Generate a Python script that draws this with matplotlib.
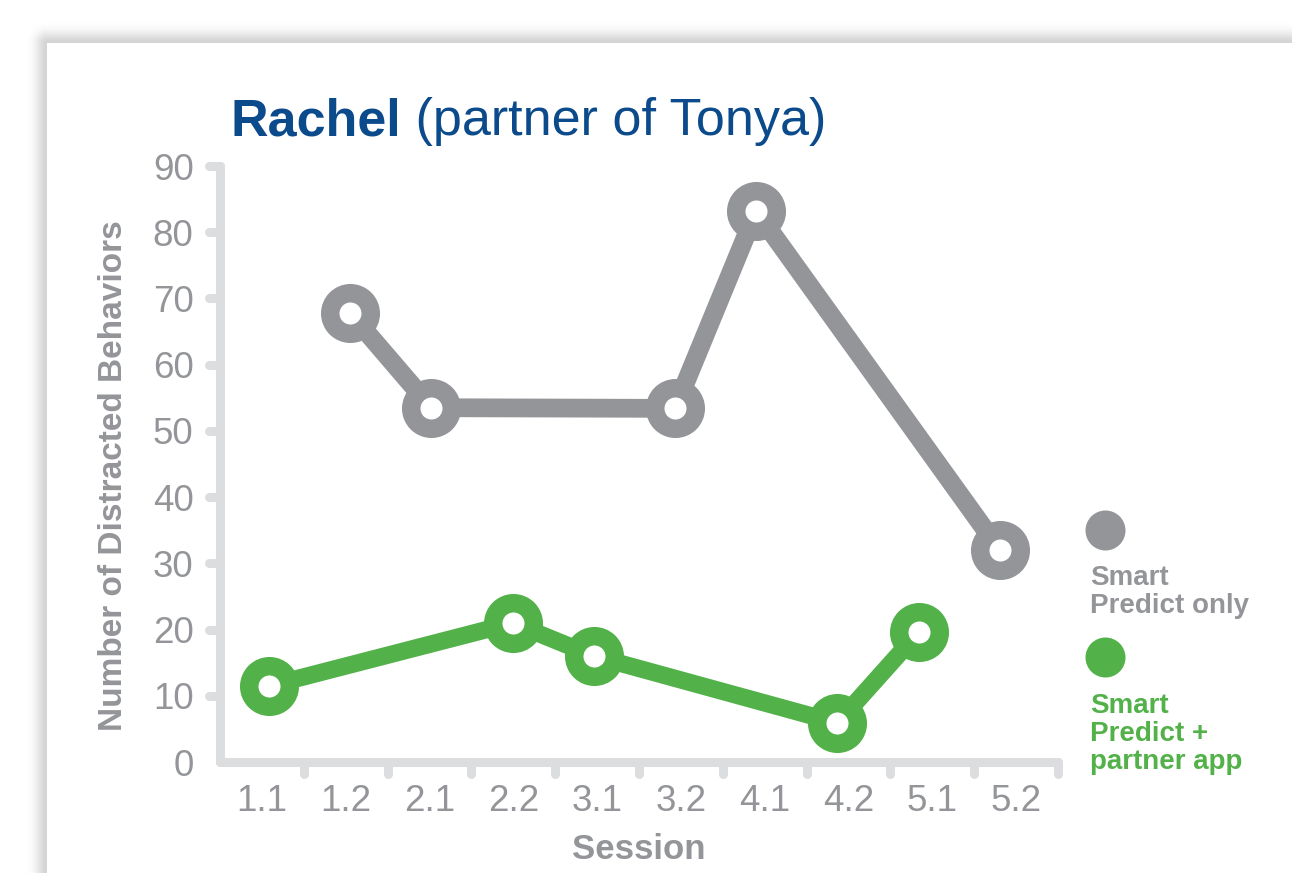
import matplotlib
matplotlib.use('Agg')
import matplotlib.pyplot as plt
import numpy as np
from matplotlib.patches import Rectangle
from matplotlib.markers import MarkerStyle

plt.rcParams['font.family'] = ['Liberation Sans', 'DejaVu Sans']

sessions = ['1.1', '1.2', '2.1', '2.2', '3.1', '3.2', '4.1', '4.2', '5.1', '5.2']
only_sessions = ['1.2', '2.1', '3.2', '4.1', '5.2']
only_values = [67.8, 53.5, 53.4, 83.2, 32.0]
app_sessions = ['1.1', '2.2', '3.1', '4.2', '5.1']
app_values = [11.5, 21.0, 16.0, 5.9, 19.6]
yticks = [0, 10, 20, 30, 40, 50, 60, 70, 80, 90]

gray = '#939598'
green = '#52b249'
axis_gray = '#dcdddf'
blue = '#0b4a8b'

fig = plt.figure(figsize=(12.92, 8.73), dpi=100)

# background card with soft shadow (pixel coords)
bg = fig.add_axes([0, 0, 1, 1], zorder=0)
bg.set_xlim(0, 1292)
bg.set_ylim(873, 0)
bg.axis('off')
xx, yy = np.meshgrid(np.arange(1292) + 0.5, np.arange(873) + 0.5)
dist = np.hypot(np.clip(47 - xx, 0, None), np.clip(43 - yy, 0, None))
shade = np.zeros((873, 1292, 4))
shade[..., 3] = 0.17 * np.exp(-(dist / 11.0) ** 2)
bg.imshow(shade, extent=(0, 1292, 873, 0), aspect='auto', interpolation='bilinear')
bg.add_patch(Rectangle((47, 43), 2000, 2000, facecolor='white', lw=0))
bg.set_xlim(0, 1292)
bg.set_ylim(873, 0)

# title
t1 = bg.text(230, 135, 'Rachel', fontsize=37.5, weight='bold', color=blue, va='baseline')
bg.annotate(' (partner of Tonya)', xy=(1, 0), xycoords=t1, va='bottom', ha='left',
            fontsize=37.5, color=blue)

# legend
bg.scatter([1105], [530], s=830, color=gray, lw=0)
for k, line in enumerate(['Smart', 'Predict only']):
    bg.text(1090, 585 + 28 * k, line, fontsize=20, weight='bold', color=gray, va='baseline')
bg.scatter([1105], [657], s=830, color=green, lw=0)
for k, line in enumerate(['Smart', 'Predict +', 'partner app']):
    bg.text(1090, 713 + 28 * k, line, fontsize=20, weight='bold', color=green, va='baseline')

# axis frame
rect = [220 / 1292, 1 - 762 / 873, 838 / 1292, 596 / 873]
ax = fig.add_axes(rect, zorder=1)
ax.patch.set_alpha(0)
ax.set_xlim(-0.5, len(sessions) - 0.5)
ax.set_ylim(0, 90)

for side in ['top', 'right']:
    ax.spines[side].set_visible(False)
for side in ['left', 'bottom']:
    ax.spines[side].set_color(axis_gray)
    ax.spines[side].set_linewidth(6.5)
    ax.spines[side].set_capstyle('round')

ax.set_xticks([i + 0.5 for i in range(len(sessions))])
ax.set_xticklabels([])
ax.set_xticks(range(len(sessions)), minor=True)
ax.set_xticklabels(sessions, minor=True)
ax.set_yticks(yticks)
ax.set_yticklabels([str(v) for v in yticks])

ax.tick_params(axis='x', which='major', length=8.5, width=6.5, color=axis_gray)
ax.tick_params(axis='x', which='minor', length=11.5, width=0, pad=4,
               labelsize=26.5, labelcolor=gray)
ax.tick_params(axis='y', which='major', length=8, width=6.5, color=axis_gray,
               pad=11, labelsize=26.5, labelcolor=gray)

for t in ax.xaxis.get_major_ticks() + ax.yaxis.get_major_ticks():
    t.tick1line.set_marker(MarkerStyle(t.tick1line.get_marker(), capstyle='round'))
ax.yaxis.get_major_ticks()[0].tick1line.set_visible(False)

ax.set_xlabel('Session', fontsize=25, weight='bold', color=gray, va='center')
ax.xaxis.set_label_coords(0.5, -0.147)
ax.set_ylabel('Number of Distracted Behaviors', fontsize=24, weight='bold', color=gray, va='center')
ax.yaxis.set_label_coords(-0.127, 0.48)

# data layer: the plotted series sit on a slightly tighter x scale than the labels
axd = fig.add_axes(rect, zorder=2)
axd.axis('off')
axd.set_xlim(-0.603, 9.717)
axd.set_ylim(0, 90)

x_only = [sessions.index(s) for s in only_sessions]
x_app = [sessions.index(s) for s in app_sessions]

axd.plot(x_only, only_values, color=gray, lw=13.5, marker='o', ms=29.2, mew=13.3,
         mfc='white', mec=gray, solid_joinstyle='round', clip_on=False)
axd.plot(x_app, app_values, color=green, lw=12.5, marker='o', ms=29.2, mew=13.3,
         mfc='white', mec=green, solid_joinstyle='round', clip_on=False)

fig.savefig('out.png', dpi=100)
